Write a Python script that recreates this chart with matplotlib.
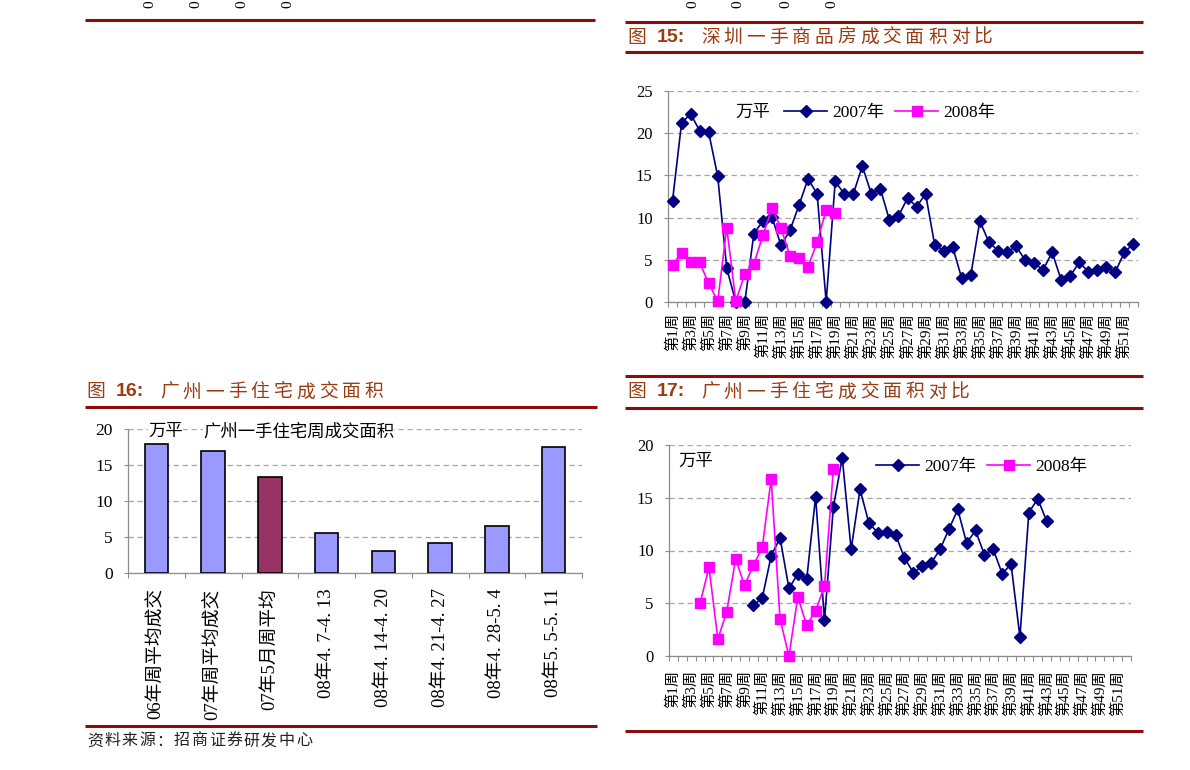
import numpy as np
import matplotlib.pyplot as plt
from matplotlib.lines import Line2D

plt.rcParams['font.family'] = ['Liberation Serif', 'Noto Sans CJK SC']

W, H = 1190, 770

# ---- data ----
weeks = ['第%d周' % i for i in range(1, 53)]

# fig 15: shenzhen, 52 weeks of 2007, first 19 weeks of 2008
sz_2007 = [12.0, 21.2, 22.3, 20.3, 20.1, 14.9, 4.0, 0.0, 0.0, 8.1,
           9.6, 10.1, 6.7, 8.5, 11.5, 14.6, 12.8, 0.0, 14.3, 12.8,
           12.8, 16.1, 12.8, 13.4, 9.7, 10.2, 12.3, 11.3, 12.8, 6.8,
           6.1, 6.5, 2.8, 3.2, 9.6, 7.1, 6.1, 5.9, 6.6, 5.0,
           4.6, 3.8, 5.9, 2.6, 3.1, 4.7, 3.6, 3.8, 4.1, 3.6,
           5.9, 6.9]
sz_2008 = [4.4, 5.8, 4.7, 4.7, 2.2, 0.1, 8.8, 0.1, 3.3, 4.5,
           7.9, 11.1, 8.8, 5.4, 5.2, 4.2, 7.1, 10.9, 10.6]

# fig 17: guangzhou weekly
gz_2007 = [None] * 9 + [4.8, 5.5, 9.5, 11.2, 6.4, 7.8, 7.3, 15.1, 3.4, 14.1,
                        18.8, 10.1, 15.8, 12.6, 11.7, 11.8, 11.5, 9.3, 7.9, 8.5,
                        8.8, 10.1, 12.0, 13.9, 10.7, 11.9, 9.6, 10.1, 7.8, 8.7,
                        1.8, 13.6, 14.9, 12.8]
gz_2008 = [None] * 3 + [5.0, 8.4, 1.6, 4.2, 9.2, 6.7, 8.6, 10.3, 16.8, 3.5,
                        0.0, 5.6, 2.9, 4.3, 6.6, 17.7]

# fig 16: guangzhou bars
bar_labels = ['06年周平均成交', '07年周平均成交', '07年5月周平均', '08年4. 7-4. 13',
              '08年4. 14-4. 20', '08年4. 21-4. 27', '08年4. 28-5. 4', '08年5. 5-5. 11']
bar_values = [17.9, 16.9, 13.3, 5.6, 3.0, 4.2, 6.5, 17.5]
bar_colors = ['#9999FF', '#9999FF', '#993366', '#9999FF', '#9999FF', '#9999FF', '#9999FF', '#9999FF']

NAVY = '#000080'
MAG = '#FF00FF'
RULE = '#8C0B0B'
TITLE = '#9B3B12'
GRID = '#A6A6A6'
SPINE = '#8C8C8C'

fig = plt.figure(figsize=(W / 100, H / 100), dpi=100)


def fx(x):
    return x / W


def fy(y):
    return 1 - y / H


def px_axes(l, t, r, b):
    return fig.add_axes([fx(l), fy(b), (r - l) / W, (b - t) / H])


def rule(x0, x1, y, lw=2.2):
    fig.add_artist(Line2D([fx(x0), fx(x1)], [fy(y), fy(y)], transform=fig.transFigure,
                          color=RULE, lw=lw, solid_capstyle='butt'))


def title(x, y, num, text):
    fig.text(fx(x - 1), fy(y), '图', fontsize=13.5, color=TITLE, family='Noto Sans CJK SC', va='center')
    fig.text(fx(x + 29), fy(y), num + ':', fontsize=14, weight='bold', color=TITLE,
             family='Liberation Sans', va='center')
    for i, ch in enumerate(text):
        fig.text(fx(x + 73 + i * 22.7), fy(y), ch, fontsize=13.5, color=TITLE,
                 family='Noto Sans CJK SC', va='center')


def style_axes(ax, n, ymax, step, ysize):
    ax.set_xlim(-0.5, n - 0.5)
    ax.set_ylim(0, ymax)
    for s in ['top', 'right']:
        ax.spines[s].set_visible(False)
    for s in ['left', 'bottom']:
        ax.spines[s].set_color(SPINE)
        ax.spines[s].set_linewidth(0.9)
    ax.set_yticks(np.arange(0, ymax + 1, step))
    ax.yaxis.grid(True, linestyle=(0, (4.3, 2.9)), color=GRID, lw=0.9)
    ax.set_axisbelow(True)
    ax.tick_params(axis='y', length=3, color=SPINE, pad=8, labelsize=ysize)
    ax.set_xticks(np.arange(-0.5, n), minor=True)
    ax.tick_params(axis='x', which='minor', length=3.5, color=SPINE, width=0.8)
    ax.tick_params(axis='x', which='major', length=0)


def line_chart(ax, s07, s08):
    x = np.arange(52)
    ax.plot(x[:len(s07)], np.array(s07, dtype=float), color=NAVY, lw=1.2, marker='D', ms=6.5,
            mfc=NAVY, mec=NAVY, clip_on=False, zorder=3)
    ax.plot(x[:len(s08)], np.array(s08, dtype=float), color=MAG, lw=1.2, marker='s', ms=6.5,
            mfc=MAG, mec=MAG, clip_on=False, zorder=4)
    ax.set_xticks(x[::2])
    ax.set_xticklabels(weeks[::2], rotation=90, fontsize=11)


def add_legend(ax, x, y):
    h = [Line2D([], [], color=NAVY, lw=1.2, marker='D', ms=6.5),
         Line2D([], [], color=MAG, lw=1.2, marker='s', ms=6.5)]
    ax.legend(h, ['2007年', '2008年'], ncol=2, frameon=False, loc='center left',
              bbox_to_anchor=(fx(x), fy(y)), bbox_transform=fig.transFigure,
              borderpad=0, borderaxespad=0, handlelength=2.5, handletextpad=0.3,
              columnspacing=0.6, fontsize=12.5)


# ---- page rules and headings ----
rule(85, 595, 20)
rule(625, 1143, 22)
rule(625, 1143, 52)
rule(625, 1143, 376)
rule(625, 1143, 408)
rule(85, 597, 407)
rule(85, 597, 726)
rule(625, 1143, 731)

# tick labels of the charts above, cut off by the top of the page
for x in [150, 196, 242, 288, 693, 738, 786, 832]:
    fig.text(fx(x), fy(4.5), '0', rotation=90, fontsize=11, ha='center', va='center')

title(628, 37, '15', '深圳一手商品房成交面积对比')
title(87, 392, '16', '广州一手住宅成交面积')
title(628, 392, '17', '广州一手住宅成交面积对比')

for i, ch in enumerate('资料来源：招商证券研发中心'):
    fig.text(fx(87 + i * 17.4), fy(741), ch, fontsize=11.5, color='#222222',
             family='Noto Sans CJK SC', va='center')

# ---- figure 15 ----
ax1 = px_axes(668, 91, 1138, 302)
style_axes(ax1, 52, 25, 5, 12)
line_chart(ax1, sz_2007, sz_2008)
ax1.tick_params(axis='x', which='major', pad=8)
fig.text(fx(735), fy(113), '万平', fontsize=12.5, va='center')
add_legend(ax1, 784, 113)

# ---- figure 17 ----
ax2 = px_axes(669, 445, 1131, 656)
style_axes(ax2, 52, 20, 5, 12)
line_chart(ax2, gz_2007, gz_2008)
ax2.tick_params(axis='x', which='major', pad=10)
fig.text(fx(678), fy(462), '万平', fontsize=12.5, va='center')
add_legend(ax2, 876, 467)

# ---- figure 16 ----
ax3 = px_axes(128, 429, 582, 573)
style_axes(ax3, 8, 20, 5, 12.5)
xb = np.arange(len(bar_values))
ax3.bar(xb, bar_values, width=0.41, color=bar_colors, edgecolor='black', lw=1.2, zorder=3)
ax3.set_xticks(xb)
ax3.set_xticklabels(bar_labels, rotation=90, fontsize=13.5)
ax3.tick_params(axis='x', which='major', pad=11)
ax3.text(fx(148), fy(432), '万平', transform=fig.transFigure, fontsize=12.5, va='center',
         bbox=dict(facecolor='white', edgecolor='none', pad=0), zorder=5)
ax3.text(fx(203), fy(432), '广州一手住宅周成交面积', transform=fig.transFigure, fontsize=12.5,
         va='center', bbox=dict(facecolor='white', edgecolor='none', pad=0), zorder=5)

fig.savefig('out.png', dpi=100)
